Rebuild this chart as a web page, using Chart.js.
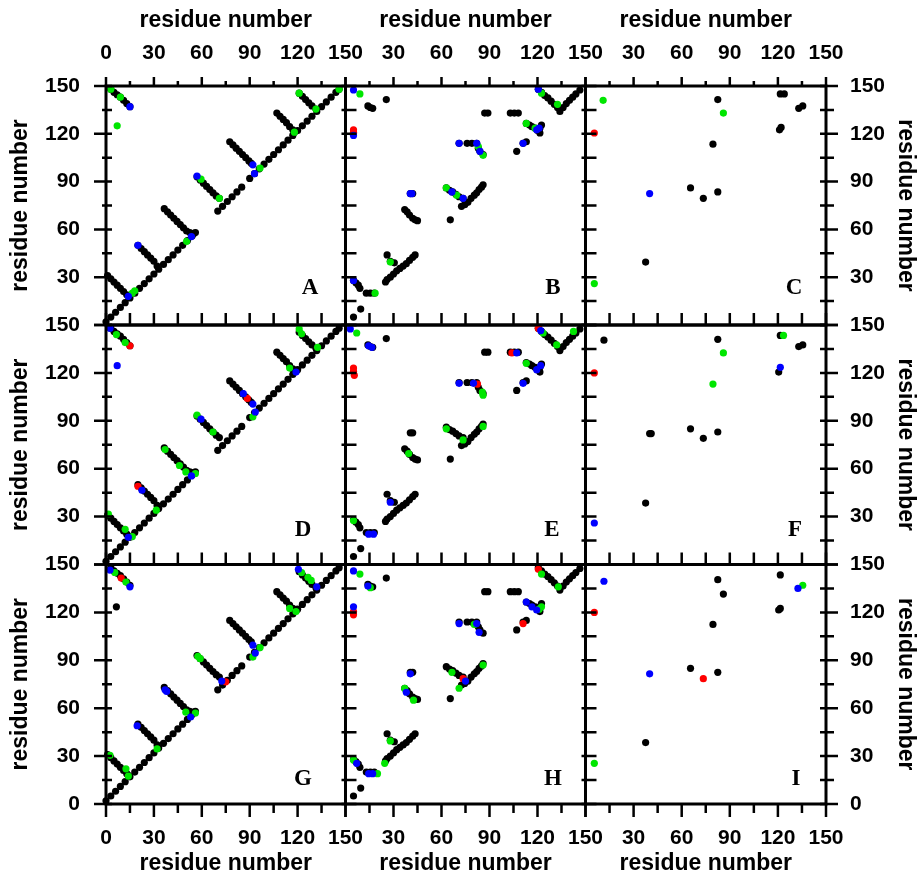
<!DOCTYPE html>
<html>
<head>
<meta charset="utf-8">
<script src="https://cdn.jsdelivr.net/npm/chart.js@4.4.1/dist/chart.umd.min.js"></script>
<style>
  body { margin: 0; background: #fff; }
  #wrap { position: relative; width: 921px; height: 880px; background: #fff; overflow: hidden; }
  #wrap canvas { position: absolute; left: 0; top: 0; }
</style>
</head>
<body>
<div id="wrap"></div>
<script>
// ------------------------
// DATA (residue i, residue j)
// ------------------------
const tickMarks = [0, 15, 30, 45, 60, 75, 90, 105, 120, 135, 150];
const panelLetters = ['A', 'B', 'C', 'D', 'E', 'F', 'G', 'H', 'I'];

// column 1 (A, D, G): shared black contacts
const colOneBlack = [
  [0,2],[3,5],[6,8],[9,11],[12,14],[15,17],[18,20],[21,23],[24,26],[27,29],[30,32],[33,35],[36,38],[39,41],
  [42,44],[45,47],[48,50],[51,53],[54,56],[56,58],
  [70,71.5],[73,74.5],[76,77.5],[79,80.5],[82,83.5],[85,86.5],
  [90,92],[93,95],[96,98],[99,101],[102,104],[105,107],[108,110],[111,113],[114,116],[117,119],[120,122],
  [123,125],[126,128],[129,131],[132,134],[135,137],[138,140],[141,143],[144,146],[146,148],
  [3,148],[5,146],[7,144.5],[9,143],[11,141],[13,139],[15,137],
  [1,31],[3,29],[5,27],[7,25],[9,23],[11,21],[13,19],[14,18],
  [20,50],[22,48],[24,46],[26,44],[28,42],[30,40],[32,37],
  [36.5,73],[38.5,71],[40.5,69],[42.5,67],[44.5,65],[46.5,63],[48.5,61],[50.5,59],[52.5,58],[55,57.5],
  [57,93],[59,91],[61,89],[63,87],[65,85],[67,83],[69,81],[71,79.5],
  [77.5,115],[79.5,113],[81.5,111],[83.5,109],[85.5,107],[87.5,105],[89.5,103],[91,101.5],
  [107,133],[109,131],[111,129],[113,127],[115,124.5],[117,122.5],[118,121],
  [121,145.5],[123,143.5],[125,141.5],[127,139.5],[129,137.5],[131.5,135.5]
];
const aGreen = [[3,148],[9,143],[7,125],[16.5,20],[18,21.5],[50.5,52.5],[59.5,91.5],[71,79.5],[96.5,98.5],[118,121],[121,145.5],[131.5,135.5],[146,148]];
const aBlue = [[15,137],[14,18],[20,50],[53.5,55.5],[57,93.5],[92,100.5],[93,95]];
const aRed = [];
const aBlack = [];
const dGreen = [[6.5,144],[12,139],[1.5,31.5],[12,22],[16.5,17.5],[31.5,34],[37,72],[46,62],[50,58],[56,57],[57,93.5],[67,83],[92,92.5],[115,123],[121,147.5],[122.5,144.5],[132.5,136]];
const dBlue = [[2.5,148],[7,124.5],[14,17],[22.5,46.5],[53.5,55.5],[59.5,91],[86,107],[92,100.5],[93.5,95.5],[119,120.5]];
const dRed = [[15,137],[20,49],[88.5,104]];
const dBlack = [];
const gGreen = [[5.5,145],[12.5,139],[2.5,30.5],[12.5,22],[14,17.5],[32,34.5],[50,57.5],[56,57],[57.5,92.5],[59,91],[92,92],[96.5,98],[115,122.5],[119,120.5],[122.5,145],[126.5,142],[128.5,140]];
const gBlue = [[2.5,146.5],[15,136],[19.5,49],[37,71.5],[38,70.5],[53,54.5],[72.5,77],[92,99.5],[93.5,94.5],[120.5,147],[132,136]];
const gRed = [[9.5,141.5],[75,76.5]];
const gBlack = [[6.5,123.5]];

// column 2 (B, E, H): shared black contacts
const colTwoBlack = [
  [14,137.5],[15.5,136.5],[17,136],[25.5,141.5],
  [87,133],[89,133],[103,133],[105.5,133],[108,133],
  [120.5,148],[122.5,146],[124.5,144],[126.5,142.5],[128.5,140.5],[130.5,138.5],[132.5,136.5],[134,134],
  [136,136.5],[138,139],[140,141],[142,143],[144,145],[146.5,147.5],
  [113,126.5],[115,125.5],[116.5,124.5],[118.5,123.5],[120,122],[121.5,120.5],[122.5,125.5],[121.5,123.5],
  [111,114],[113,115],[107,109],
  [71,114],[76,114],[79,114],[82,114],[83,111],[84,109],[86,107],
  [63,86],[65,84.5],[67,83.5],[69,82],[71,80.5],[73.5,79.5],[72.5,74.5],[74.5,75.5],[76.5,77],[78.5,79.5],
  [80.5,81.5],[82,83],[83.5,85],[85,86.5],[86,88],
  [65.5,66],
  [40.5,82.5],[42,82.5],
  [37,72.5],[38.5,71],[40,69],[42,67],[43.5,66],[45,65.5],
  [26,44],[28,40],[30.5,39],
  [25,27],[26,28.5],[28,30],[30,32],[32,34],[34,35.5],[36,37],[38,38.5],[40,40.5],[42,42.5],[43.5,44],
  [5,28],[6.5,26.5],[8,25],[9,23],
  [13,20],[15.5,20],[18,20],
  [9.5,10],[5,5]
];
const bBlue = [[5,147.5],[5,119],[120.5,148],[119.5,122.5],[121,123.5],[111,114],[71,114],[82,114],[84,109],[66.5,83.5],[73.5,79.5],[40.5,82.5],[41.5,82.5],[5,28]];
const bGreen = [[9,145],[122.5,145.5],[132.5,138.5],[113,126.5],[118.5,123.5],[83,112],[86,106.5],[63,86],[69.5,81.5],[28,39.5],[18.5,20]];
const bRed = [[5,122.5],[5,121],[5,120]];
const eBlue = [[3,147.5],[14.5,137],[16.5,136],[107,132.5],[122,146.5],[119.5,122],[122,124.5],[111,113.5],[71,113.5],[80,113.5],[28,39],[14.5,19],[17.5,19]];
const eGreen = [[7,145],[123.5,145],[132,137.5],[142.5,146],[113,126],[85.5,108],[86,106],[63,85],[73.5,78],[86,86.5],[39.5,69.5],[5,27.5]];
const eRed = [[5,123],[5,121],[5.5,118.5],[104,132.5],[120.5,148],[82.5,113]];
const hBlue = [[5,146],[14,136.5],[5,123.5],[113,126.5],[116.5,123.5],[119.5,121.5],[71,113],[82,113],[83.5,107.5],[75,77],[40.5,81.5],[38,70],[7,25.5],[14.5,19],[17,19]];
const hGreen = [[9,144],[15.5,135.5],[122.5,144],[133,136],[122.5,123.5],[121,122],[80.5,112.5],[66.5,82.5],[71,72.5],[86,87],[37,72.5],[42.5,65],[28,39.5],[24.5,25.5],[5,27.5],[20,19]];
const hRed = [[5,120.5],[5,118.5],[120.5,147],[111,113],[73.5,78.5]];

// column 3 (C, F, I)
const cBlack = [[37.5,39.5],[65.5,86],[73.5,79.5],[82.5,83.5],[79.5,113.5],[82.5,141.5],[121.5,145],[124,145],[121,122.5],[122,124],[133,136],[135.5,137.5]];
const cGreen = [[11,141],[86,133],[5.5,26]];
const cRed = [[5.5,120.5]];
const cBlue = [[40,82.5]];
const fBlack = [[11.5,140.5],[82.5,141],[121.5,143.5],[120.5,120.5],[133,136.5],[135.5,137.5],[40,82],[41,82],[65.5,85],[73.5,79],[82.5,83],[37.5,38.5]];
const fGreen = [[123.5,143.5],[86,132.5],[79.5,113]];
const fRed = [[5.5,120]];
const fBlue = [[5.5,26],[121.5,123.5]];
const iBlack = [[82.5,140.5],[121.5,143.5],[37.5,38.5],[65.5,85],[82.5,82.5],[79.5,112.5],[86,131.5],[120.5,121.5],[121.5,122.5]];
const iGreen = [[135.5,137],[5.5,25.5]];
const iRed = [[5.5,120],[73.5,78.5]];
const iBlue = [[11.5,139.5],[40,81.5],[132.5,135]];

// ------------------------
// LAYOUT
// ------------------------
const colEdges = [106, 345.5, 585.5, 826];
const rowEdges = [86, 325, 564.5, 804];
const letterPos = [[310,294],[553,294],[794,294],[303,536],[552,536],[795,536],[303,785],[553,785],[796,785]];

const tickFont = { family: "'Liberation Sans Narrow', 'Arial Narrow', 'Liberation Sans', Arial, sans-serif", size: 21, weight: 'bold' };
const titleFont = { family: "'Liberation Sans', Arial, Helvetica, sans-serif", size: 23, weight: 'bold' };

const panels = [
  { black: colOneBlack.concat(aBlack), red: aRed, green: aGreen, blue: aBlue },
  { black: colTwoBlack, red: bRed, green: bGreen, blue: bBlue },
  { black: cBlack, red: cRed, green: cGreen, blue: cBlue },
  { black: colOneBlack.concat(dBlack), red: dRed, green: dGreen, blue: dBlue },
  { black: colTwoBlack, red: eRed, green: eGreen, blue: eBlue },
  { black: fBlack, red: fRed, green: fGreen, blue: fBlue },
  { black: colOneBlack.concat(gBlack), red: gRed, green: gGreen, blue: gBlue },
  { black: colTwoBlack, red: hRed, green: hGreen, blue: hBlue },
  { black: iBlack, red: iRed, green: iGreen, blue: iBlue }
];

// frame, tick marks and panel letter
const frameTicks = {
  id: 'frameTicks',
  afterDatasetsDraw(chart, args, opts) {
    const { ctx, chartArea: a, scales } = chart;
    const xs = scales.x, ys = scales.y;
    ctx.save();
    ctx.strokeStyle = '#000';
    ctx.lineWidth = 2.5;
    ctx.beginPath();
    tickMarks.forEach(v => {
      const px = xs.getPixelForValue(v), py = ys.getPixelForValue(v);
      const major = v % 30 === 0;
      if (opts.row < 2) { ctx.moveTo(px, a.bottom); ctx.lineTo(px, a.bottom - 12); }
      else { ctx.moveTo(px, a.bottom); ctx.lineTo(px, a.bottom + (major ? 13 : 9)); }
      if (opts.row === 0) { ctx.moveTo(px, a.top); ctx.lineTo(px, a.top - (major ? 9 : 5)); }
      if (opts.col === 0) { ctx.moveTo(a.left - (major ? 12 : 4), py); ctx.lineTo(a.left + 6, py); }
      else { ctx.moveTo(a.left - 4, py); ctx.lineTo(a.left + 11, py); }
      if (opts.col === 2) { ctx.moveTo(a.right - 6, py); ctx.lineTo(a.right + (major ? 12 : 8), py); }
    });
    ctx.stroke();
    ctx.lineWidth = 3;
    ctx.strokeRect(a.left, a.top, a.right - a.left, a.bottom - a.top);
    ctx.fillStyle = '#000';
    ctx.font = "bold 23px 'Liberation Serif', 'Times New Roman', serif";
    ctx.textAlign = 'center';
    ctx.textBaseline = 'alphabetic';
    ctx.fillText(opts.letter, opts.lx, opts.ly);
    ctx.restore();
  }
};

function pts(list, color) {
  return {
    data: list.map(p => ({ x: p[0], y: p[1] })),
    showLine: false, clip: false,
    pointRadius: 3.6, pointBorderWidth: 0,
    pointBackgroundColor: color, pointBorderColor: color
  };
}

function axis(pos, show, size, hideZero, pad, titlePad) {
  const horiz = pos === 'top' || pos === 'bottom';
  return {
    type: 'linear', position: pos, min: 0, max: 150, display: show,
    grid: { display: false, drawTicks: false },
    border: { display: false },
    ticks: {
      stepSize: 30, autoSkip: false, maxRotation: 0, color: '#000', font: tickFont, padding: pad,
      callback: v => (hideZero && v === 0) ? '' : String(v)
    },
    title: { display: true, text: 'residue number', color: '#000', font: titleFont, padding: titlePad },
    afterFit: s => { if (!show) return; if (horiz) s.height = size; else s.width = size; }
  };
}

const wrap = document.getElementById('wrap');

panels.forEach((p, i) => {
  const r = Math.floor(i / 3), k = i % 3;
  const left = colEdges[k], right = colEdges[k + 1], top = rowEdges[r], bottom = rowEdges[r + 1];
  const cv = document.createElement('canvas');
  cv.width = 921; cv.height = 880;
  wrap.appendChild(cv);
  new Chart(cv, {
    type: 'scatter',
    data: { datasets: [pts(p.blue, '#0000ff'), pts(p.green, '#00e600'), pts(p.red, '#ff0000'), pts(p.black, '#000000')] },
    options: {
      responsive: false, animation: false, devicePixelRatio: 1, events: [],
      layout: { padding: {
        left: k === 0 ? 0 : left, right: k === 2 ? 0 : 921 - right,
        top: r === 0 ? 0 : top, bottom: r === 2 ? 0 : 880 - bottom
      } },
      plugins: {
        legend: { display: false }, tooltip: { enabled: false },
        frameTicks: { row: r, col: k, letter: panelLetters[i], lx: letterPos[i][0], ly: letterPos[i][1] }
      },
      scales: {
        x: axis('bottom', r === 2, 880 - bottom, k !== 0, 22, { top: 0, bottom: 3 }),
        x2: axis('top', r === 0, top, k !== 0, 20, { top: 7, bottom: 0 }),
        y: axis('left', k === 0, left, r !== 2, 26, { top: 7, bottom: 0 }),
        y2: axis('right', k === 2, 921 - right, r !== 2, 24, { top: 2, bottom: 0 })
      }
    },
    plugins: [frameTicks]
  });
});
</script>
</body>
</html>
